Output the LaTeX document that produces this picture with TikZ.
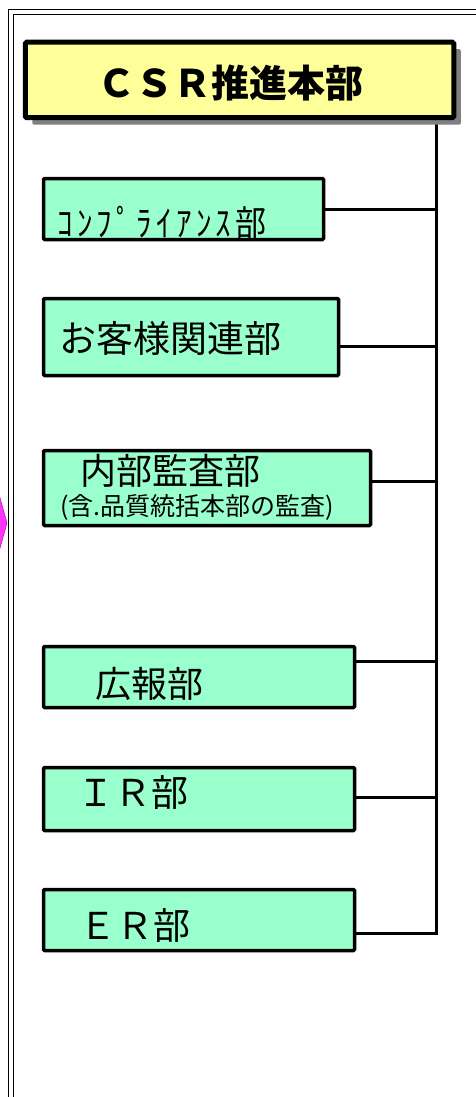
\documentclass[tikz,border=0pt]{standalone}
\usepackage{fontspec}
\usepackage{graphicx}
\setmainfont{Noto Sans CJK JP}
\usetikzlibrary{shadows,backgrounds}
\definecolor{titlefill}{HTML}{FFFF99}
\definecolor{boxfill}{HTML}{99FFCC}
\definecolor{arrowfill}{HTML}{FF33FF}
\tikzset{
  frameline/.style={draw=black, line width=1.6pt},
  box/.style={draw=black, line width=3.5pt, fill=boxfill, inner sep=0pt, rounded corners=1pt},
  titlebox/.style={draw=black, line width=5pt, fill=titlefill, inner sep=0pt, rounded corners=1.5pt,
    drop shadow={shadow xshift=7pt, shadow yshift=-7pt, fill=gray, opacity=1}},
  conn/.style={draw=black, line width=3pt},
  lbl/.style={anchor=base west, inner sep=0pt, text=black},
}
\begin{document}
\begin{tikzpicture}[x=1pt,y=-1pt]
\useasboundingbox (0,0) rectangle (475,1097);
% outer double frame
\draw[frameline] (8.5,1100) -- (8.5,9.5) -- (478,9.5);
\draw[frameline] (13.5,1100) -- (13.5,14.5) -- (478,14.5);
% magenta arrow tip at left edge
\filldraw[fill=arrowfill, draw=arrowfill!70!black, line width=0.6pt] (-3,487) -- (7,523) -- (-3,559) -- cycle;

% title
\node[titlebox, minimum width=428.5pt, minimum height=75.5pt] (title) at (239.5,80) {};
\node[lbl, font=\fontsize{38}{38}\selectfont\bfseries] (ttitle) at (97,97.5) {ＣＳＲ推進本部};

% boxes
\node[box, minimum width=280pt, minimum height=61pt] (b1) at (183.5,209) {};
\node[box, minimum width=295pt, minimum height=77pt] (b2) at (191,337) {};
\node[box, minimum width=327pt, minimum height=75pt] (b3) at (207,488) {};
\node[box, minimum width=311pt, minimum height=61pt] (b4) at (199,677) {};
\node[box, minimum width=311pt, minimum height=63pt] (b5) at (199,799) {};
\node[box, minimum width=311pt, minimum height=61pt] (b6) at (199,920) {};

% texts
\node[lbl, font=\fontsize{31}{31}\selectfont\addfontfeature{LetterSpace=14}] (t1) at (57,236.5) {\scalebox{1}[1.15]{ｺﾝﾌﾟﾗｲｱﾝｽ部}};
\node[lbl, font=\fontsize{37}{37}\selectfont] (t2) at (59,352) {お客様関連部};
\node[lbl, font=\fontsize{36}{36}\selectfont] (t3) at (80,484.5) {内部監査部};
\node[lbl, font=\fontsize{25}{25}\selectfont] (t3b) at (60,515) {(含.品質統括本部の監査)};
\node[lbl, font=\fontsize{36}{36}\selectfont] (t4) at (95,697.5) {広報部};
\node[lbl, font=\fontsize{37}{37}\selectfont] (t5) at (77,806) {ＩＲ部};
\node[lbl, font=\fontsize{37}{37}\selectfont] (t6) at (79,939) {ＥＲ部};

% connectors
\coordinate (bus) at (436,0);
\coordinate (c1) at (b1.east);
\coordinate (c2) at ([yshift=-9pt]b2.east);
\coordinate (c3) at ([yshift=7pt]b3.east);
\coordinate (c4) at ([yshift=16pt]b4.east);
\coordinate (c5) at ([yshift=2pt]b5.east);
\coordinate (c6) at ([yshift=-13pt]b6.east);
\begin{scope}[on background layer]
\draw[conn] (bus |- title.south) -- (bus |- c6) -- (c6);
\draw[conn] (c1) -- (c1 -| bus);
\draw[conn] (c2) -- (c2 -| bus);
\draw[conn] (c3) -- (c3 -| bus);
\draw[conn] (c4) -- (c4 -| bus);
\draw[conn] (c5) -- (c5 -| bus);
\end{scope}
\end{tikzpicture}
\end{document}
